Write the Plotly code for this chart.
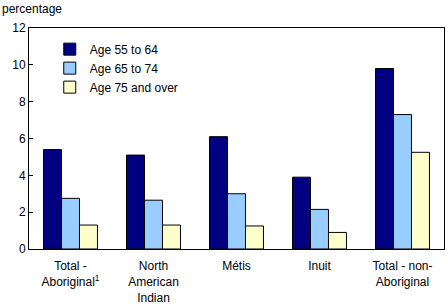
import plotly.graph_objects as go

categories = ["Total -<br>Aboriginal<sup>1</sup>", "North<br>American<br>Indian", "Métis", "Inuit", "Total - non-<br>Aboriginal"]
series_names = ["Age 55 to 64", "Age 65 to 74", "Age 75 and over"]
age_55_64 = [5.4, 5.1, 6.1, 3.9, 9.8]
age_65_74 = [2.75, 2.65, 3.0, 2.15, 7.3]
age_75_over = [1.3, 1.3, 1.25, 0.9, 5.25]
colors = ["#000080", "#99CCFF", "#FFFFCC"]

fig = go.Figure()
for name, vals, col in zip(series_names, [age_55_64, age_65_74, age_75_over], colors):
    fig.add_trace(go.Bar(x=categories, y=vals, name=name,
                         marker=dict(color=col, line=dict(color="black", width=1))))

font = "Liberation Sans, Arial, sans-serif"
fig.update_layout(
    width=448, height=308,
    margin=dict(l=29, r=4, t=28, b=59),
    paper_bgcolor="white", plot_bgcolor="white",
    barmode="group", bargap=0.35, bargroupgap=0,
    font=dict(family=font, size=12, color="black"),
    showlegend=True,
    legend=dict(x=0.05, y=0.97, xanchor="left", yanchor="top",
                bgcolor="rgba(0,0,0,0)", font=dict(size=12), tracegroupgap=0,
                itemwidth=30),
    xaxis=dict(showline=True, linecolor="black", linewidth=1, mirror=True,
               ticks="", tickfont=dict(size=12), showgrid=False,
               ticklabelstandoff=6),
    yaxis=dict(range=[0, 12], dtick=2, showline=True, linecolor="black", linewidth=1,
               mirror=True, ticks="inside", ticklen=4, tickcolor="black",
               showgrid=False, zeroline=False, tickfont=dict(size=12)),
    annotations=[dict(text="percentage", xref="paper", yref="paper", x=-29/415, y=1.0,
                      yshift=28, xanchor="left", yanchor="top", showarrow=False,
                      font=dict(size=12))],
)
fig.write_html("out.html")
